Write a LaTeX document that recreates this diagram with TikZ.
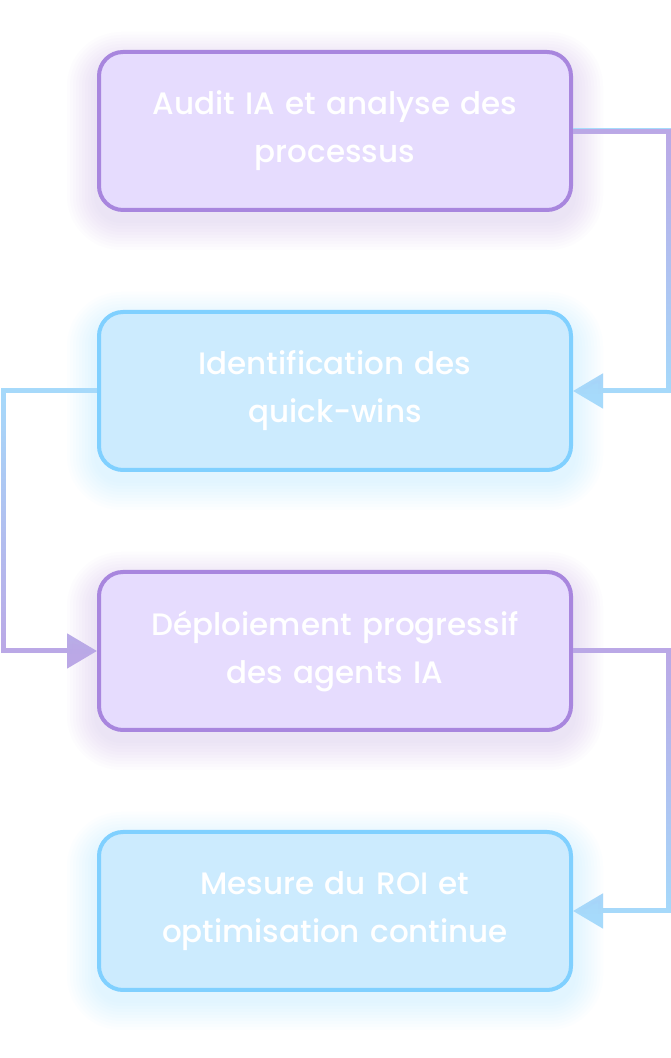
\documentclass[tikz,border=0pt]{standalone}
\usepackage{fontspec}
\setmainfont{Poppins Medium}
\usetikzlibrary{positioning, arrows.meta, fadings, backgrounds, calc}

\definecolor{lavfill}{HTML}{E6DCFE}
\definecolor{lavline}{HTML}{A886DE}
\definecolor{skyfill}{HTML}{CCEBFE}
\definecolor{skyline}{HTML}{80D0FF}
\definecolor{linkpurple}{HTML}{BBA8E6}
\definecolor{linkblue}{HTML}{A6DAFB}

\begin{document}
\begin{tikzpicture}[x=1pt, y=1pt,
		node distance=98pt,
		box/.style={rectangle, draw, line width=4pt, rounded corners=24pt, minimum width=472pt, minimum height=158pt, text width=460pt, align=center, font=\fontsize{31}{48}\selectfont, text=white},
		purplebox/.style={box, fill=lavfill, draw=lavline},
		bluebox/.style={box, fill=skyfill, draw=skyline},
		link/.style={line width=5pt, -{Triangle[length=30pt, width=34pt]}}
		]
		
		\useasboundingbox (0,0) rectangle (670,1058);
		
		% Nodes
		\node[purplebox] (audit) at (335,927) {Audit IA et analyse des\\processus};
		\node[bluebox, below=of audit] (quickwins) {Identification des\\quick-wins};
		\node[purplebox, below=of quickwins] (deploy) {Déploiement progressif\\des agents IA};
		\node[bluebox, below=of deploy] (roi) {Mesure du ROI et\\optimisation continue};
		
		% Edges
		\draw[link, linkblue] (audit.east) -- ++(95,0) |- (quickwins.east);
		\draw[link, linkpurple, path fading=south] (audit.east) -- ++(95,0) |- (quickwins.east);
		\draw[link, linkpurple] (quickwins.west) -- ++(-94,0) |- (deploy.west);
		\draw[link, linkblue, path fading=south] (quickwins.west) -- ++(-94,0) |- (deploy.west);
		\draw[link, linkblue] (deploy.east) -- ++(95,0) |- (roi.east);
		\draw[link, linkpurple, path fading=south] (deploy.east) -- ++(95,0) |- (roi.east);
		
		% Glow behind the boxes
		\begin{scope}[on background layer]
			\fill[white] (0,0) rectangle (670,1058);
			\foreach \n/\c in {audit/lavline, quickwins/skyline, deploy/lavline, roi/skyline}
			\foreach \r in {3,6,...,30}
			\fill[\c, opacity=0.018, rounded corners=24pt+\r] ($(\n.south west)+(-\r,-\r-8)$) rectangle ($(\n.north east)+(\r,\r-12)$);
		\end{scope}
		
	\end{tikzpicture}
\end{document}
